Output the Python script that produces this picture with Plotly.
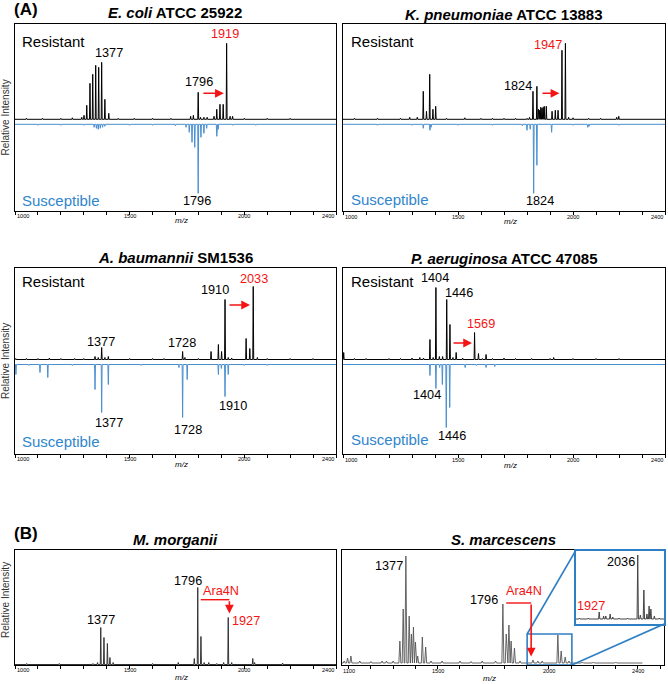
import plotly.graph_objects as go

W, H = 668, 684
FONT = "Liberation Sans, Arial, sans-serif"
RED = "#f41414"
BLUE_LINE = "#4a8fd0"
BLUE_TXT = "#2f86cc"
INSET_BLUE = "#2f7fc4"

# ---------------- data (m/z, relative intensity a.u.) ----------------
ecoli_res_mz = [1050, 1120, 1200, 1250, 1291, 1301, 1313, 1327, 1339, 1352, 1365, 1378, 1392, 1409, 1450, 1520,
                1600, 1680, 1766, 1778, 1799, 1809, 1824, 1838, 1868, 1880, 1894, 1908, 1923, 1938, 1949, 2000, 2100, 2200]
ecoli_res_int = [1, 1, 1, 1.5, 2, 4, 14, 36, 45, 54, 52, 57, 20, 6, 1, 1,
                 1, 1, 3, 4, 27, 2, 2, 2, 3, 10, 15, 15, 76, 3, 3, 1, 1, 1]
ecoli_sus_mz = [1100, 1200, 1300, 1345, 1355, 1363, 1372, 1382, 1392, 1500, 1600, 1700, 1746, 1760, 1772, 1784,
                1799, 1811, 1824, 1836, 1880, 1886, 1950, 2050]
ecoli_sus_int = [1, 1, 1, 3, 4, 5, 4, 3, 2, 1, 1, 1.5, 3, 8, 18, 23,
                 69, 13, 9, 4, 12, 5, 1, 1]

kpn_res_mz = [1050, 1150, 1250, 1290, 1323, 1349, 1363, 1377, 1391, 1403, 1450, 1530, 1600, 1650, 1700, 1750,
              1800, 1811, 1826, 1843, 1850, 1855, 1860, 1865, 1870, 1875, 1884, 1909, 1923, 1935, 1952, 1967,
              1981, 2000, 2068, 2120, 2190, 2199]
kpn_res_int = [1, 1, 1, 2, 2, 28, 8, 45, 10, 13, 1, 1.5, 1, 1, 1, 1,
               1, 2, 28, 33, 10, 9, 12, 11, 12, 13, 13, 8, 9, 9, 69, 76,
               2, 1.5, 1, 1, 2, 3]
kpn_sus_mz = [1150, 1300, 1349, 1378, 1383, 1500, 1650, 1780, 1800, 1814, 1829, 1843, 1907, 2000, 2064, 2070, 2200]
kpn_sus_int = [1, 1, 4, 6, 3, 1, 1, 1.5, 6, 5, 69, 41, 8, 1, 3, 2, 1]

aba_res_mz = [1003, 1050, 1100, 1150, 1200, 1260, 1300, 1349, 1363, 1378, 1392, 1407, 1500, 1600, 1650, 1731,
              1741, 1800, 1855, 1887, 1901, 1916, 1930, 1945, 2008, 2024, 2039, 2057, 2100, 2200, 2300]
aba_res_int = [1, 1, 1, 1.5, 1, 1, 1, 3, 2, 12, 2, 3, 1, 1, 1, 8,
               2, 1, 8, 15, 8, 60, 2, 1.5, 21, 11, 73, 2, 1, 1, 1]
aba_sus_mz = [1004, 1060, 1109, 1143, 1250, 1349, 1378, 1407, 1550, 1715, 1731, 1751, 1887, 1900, 1916, 1930, 2000, 2100]
aba_sus_int = [10, 1, 8, 13, 1, 25, 48, 20, 1, 3, 53, 15, 10, 4, 32, 10, 1, 1]

pae_res_mz = [1003, 1050, 1100, 1200, 1250, 1300, 1334, 1350, 1378, 1392, 1404, 1419, 1433, 1451, 1465, 1478,
              1492, 1520, 1572, 1589, 1606, 1622, 1650, 1700, 1750, 1820, 1900, 1916, 2000, 2100, 2200]
pae_res_int = [7, 1, 1, 1, 1, 1.5, 2, 1.5, 20, 2, 72, 3, 3, 60, 35, 2,
               7, 1.5, 27, 6, 1, 5, 1, 1.5, 1, 1, 1, 2, 1, 1, 1]
pae_sus_mz = [1378, 1404, 1420, 1432, 1449, 1464, 1531, 1580, 1622, 1660]
pae_sus_int = [11, 24, 3, 20, 63, 43, 3, 1, 3, 2]

mmo_mz = [1051, 1193, 1340, 1360, 1374, 1388, 1403, 1414, 1428, 1600, 1712, 1782, 1797, 1811, 1825, 1845,
          1880, 1910, 1930, 1945, 2037, 2045, 2167]
mmo_int = [1, 1, 1, 2, 37, 27, 21, 7, 2, 1, 2, 6, 77, 28, 2, 2,
           1, 2, 47, 2, 6, 2, 1.5]

sma_mz = [1080, 1095, 1110, 1150, 1200, 1250, 1270, 1300, 1330, 1345, 1357, 1372, 1382, 1391, 1400, 1410,
          1431, 1446, 1470, 1520, 1600, 1650, 1700, 1760, 1793, 1808, 1820, 1830, 1845, 1870, 1928, 1950,
          1970, 2040, 2055, 2073, 2090, 2150, 2200, 2300]
sma_int = [2, 5, 7, 2, 1.5, 2, 2, 2, 22, 54, 107, 47, 29, 36, 21, 7,
           26, 16, 2, 2, 2, 1.5, 2, 2, 59, 29, 38, 22, 15, 2, 3, 2,
           2, 28, 12, 6, 2, 1, 1, 1]
sma_zoom_range = [1902, 2103]
sma_zoom_height = 29
inset_mz = [1910, 1930, 1955, 1965, 1970, 1980, 1986, 2000, 2020, 2043, 2049, 2057, 2064, 2069, 2073, 2081, 2092]
inset_int = [1, 1, 7, 3, 3, 5, 2, 1, 1, 64, 4, 29, 5, 13, 10, 3, 1]

ticks_std = [1000, 1500, 2000, 2400]
ticks_sma = [1100, 1500, 2000, 2400]

# ---------------- geometry (pixels) ----------------
COL_L = (15, 336)
COL_R = (343, 665)
ROW1 = (24, 211)
ROW2 = (268, 454)
ROW3 = (550, 665)
SMA_X = (342, 664)
INSET_X = (576, 664)
INSET_Y = (550.7, 624)

XR_STD = [1000, 2400]
XR_SMA = [1070, 2517]
YR1 = [-91.7, 95.3]
YR2 = [-94.5, 91.5]
YR5 = [-0.5, 114.5]
YR6 = [-2.0, 113.0]
YR7 = [-5.0, 68.3]
SUS_OFF = -5.0


def xd(px):
    return [px[0] / W, px[1] / W]


def yd(py):
    return [1 - py[1] / H, 1 - py[0] / H]


def stick(mz, inten, w, x0, x1, base=0.0, sign=1.0):
    xs, ys = [x0], [base]
    for m, h in sorted(zip(mz, inten)):
        xs += [m - w, m, m + w]
        ys += [base, base + sign * h, base]
    xs.append(x1)
    ys.append(base)
    return xs, ys


fig = go.Figure()


def add_spec(mz, inten, axn, xr, color, w=2.0, base=0.0, sign=1.0, lw=1.0):
    xs, ys = stick(mz, inten, w, xr[0], xr[1], base, sign)
    fig.add_trace(go.Scatter(x=xs, y=ys, mode="lines", line=dict(color=color, width=lw),
                             xaxis="x" if axn == 1 else f"x{axn}",
                             yaxis="y" if axn == 1 else f"y{axn}",
                             hoverinfo="skip", showlegend=False))


# panel A
add_spec(ecoli_res_mz, ecoli_res_int, 1, XR_STD, "black")
add_spec(ecoli_sus_mz, ecoli_sus_int, 1, XR_STD, BLUE_LINE, base=SUS_OFF, sign=-1)
add_spec(kpn_res_mz, kpn_res_int, 2, XR_STD, "black")
add_spec(kpn_sus_mz, kpn_sus_int, 2, XR_STD, BLUE_LINE, base=SUS_OFF, sign=-1)
add_spec(aba_res_mz, aba_res_int, 3, XR_STD, "black")
add_spec(aba_sus_mz, aba_sus_int, 3, XR_STD, BLUE_LINE, base=SUS_OFF, sign=-1)
add_spec(pae_res_mz, pae_res_int, 4, XR_STD, "black")
add_spec(pae_sus_mz, pae_sus_int, 4, XR_STD, BLUE_LINE, base=SUS_OFF, sign=-1)
# panel B
add_spec(mmo_mz, mmo_int, 5, XR_STD, "#333333")
add_spec(sma_mz, sma_int, 6, [XR_SMA[0], 2420], "#555555", w=4.5, lw=0.9)
add_spec(inset_mz, inset_int, 7, sma_zoom_range, "#444444", w=1.5, lw=1.0)

# red elbow connectors (Ara4N)
fig.add_trace(go.Scatter(x=[1810, 1935], y=[64.8, 64.8], mode="lines", line=dict(color=RED, width=1.4),
                         xaxis="x5", yaxis="y5", hoverinfo="skip", showlegend=False))
fig.add_trace(go.Scatter(x=[1808, 1920], y=[60, 60], mode="lines", line=dict(color=RED, width=1.4),
                         xaxis="x6", yaxis="y6", hoverinfo="skip", showlegend=False))

frame = dict(showline=True, mirror=True, linecolor="black", linewidth=1.3,
             showgrid=False, zeroline=False, fixedrange=True)
xcommon = dict(frame, ticks="outside", ticklen=3, tickwidth=0.8, tickcolor="black",
               dtick=100, showticklabels=False)
ycommon = dict(frame, ticks="", showticklabels=False)

layout = dict(
    width=W, height=H, margin=dict(l=0, r=0, t=0, b=0),
    paper_bgcolor="white", plot_bgcolor="white", showlegend=False,
    font=dict(family=FONT, color="black"),
)
panels = [
    (1, COL_L, ROW1, XR_STD, YR1, 1000),
    (2, COL_R, ROW1, XR_STD, YR1, 1000),
    (3, COL_L, ROW2, XR_STD, YR2, 1000),
    (4, COL_R, ROW2, XR_STD, YR2, 1000),
    (5, COL_L, ROW3, XR_STD, YR5, 1000),
    (6, SMA_X, ROW3, XR_SMA, YR6, 1100),
]
for n, cx, ry, xr, yr, t0 in panels:
    xk = "xaxis" if n == 1 else f"xaxis{n}"
    yk = "yaxis" if n == 1 else f"yaxis{n}"
    layout[xk] = dict(xcommon, domain=xd(cx), range=xr, tick0=t0, anchor="y" if n == 1 else f"y{n}")
    layout[yk] = dict(ycommon, domain=yd(ry), range=yr, anchor="x" if n == 1 else f"x{n}")
layout["xaxis7"] = dict(frame, domain=xd(INSET_X), range=sma_zoom_range, anchor="y7",
                        linecolor=INSET_BLUE, linewidth=1.6, ticks="", showticklabels=False)
layout["yaxis7"] = dict(frame, domain=yd(INSET_Y), range=YR7, anchor="x7",
                        linecolor=INSET_BLUE, linewidth=1.6, ticks="", showticklabels=False)
fig.update_layout(**layout)

ann = []


def text(xpx, ypx, s, size=12.7, color="black", xanchor="center"):
    ann.append(dict(x=xpx / W, y=1 - ypx / H, xref="paper", yref="paper", text=s, showarrow=False,
                    xanchor=xanchor, yanchor="middle", font=dict(size=size, color=color, family=FONT)))


def arrow(axn, x_tail, x_head, y_tail, y_head):
    a = "x" if axn == 1 else f"x{axn}"
    b = "y" if axn == 1 else f"y{axn}"
    ann.append(dict(x=x_head, y=y_head, ax=x_tail, ay=y_tail, xref=a, yref=b, axref=a, ayref=b,
                    text="", showarrow=True, arrowhead=2, arrowsize=1.1, arrowwidth=1.6, arrowcolor=RED))


# titles
text(175.5, 13, "<b><i>E. coli</i> ATCC 25922</b>", 15)
text(504, 15, "<b><i>K. pneumoniae</i> ATCC 13883</b>", 15)
text(175.5, 257, "<b><i>A. baumannii</i> SM1536</b>", 15)
text(504, 258, "<b><i>P. aeruginosa</i> ATCC 47085</b>", 15)
text(175.5, 539, "<b><i>M. morganii</i></b>", 15)
text(503, 539, "<b><i>S. marcescens</i></b>", 15)
text(12, 10, "<b>(A)</b>", 17, xanchor="left")
text(12, 533, "<b>(B)</b>", 17, xanchor="left")

# y titles
for yc in (117.5, 361, 600):
    ann.append(dict(x=5 / W, y=1 - yc / H, xref="paper", yref="paper", text="Relative Intensity",
                    showarrow=False, textangle=-90, xanchor="center", yanchor="middle",
                    font=dict(size=10, color="#333333", family=FONT)))

# E. coli
text(20, 42, "Resistant", 15, xanchor="left")
text(108.5, 53, "1377")
text(199, 82, "1796")
text(225, 34, "1919", color=RED)
text(20, 200, "Susceptible", 15, BLUE_TXT, xanchor="left")
text(197, 201, "1796")
arrow(1, 1815, 1911, 26, 26)
# K. pneumoniae
text(349, 41, "Resistant", 15, xanchor="left")
text(548, 45, "1947", color=RED)
text(518, 86, "1824")
text(349, 199, "Susceptible", 15, BLUE_TXT, xanchor="left")
text(539.5, 201, "1824")
arrow(2, 1861, 1941, 26, 26)
# A. baumannii
text(20, 282, "Resistant", 15, xanchor="left")
text(215, 290, "1910")
text(254, 279, "2033", color=RED)
text(101, 342, "1377")
text(181.5, 343, "1728")
text(232.5, 406, "1910")
text(109, 423, "1377")
text(187.5, 430, "1728")
text(20, 441, "Susceptible", 15, BLUE_TXT, xanchor="left")
arrow(3, 1929, 2025, 54.5, 54.5)
# P. aeruginosa
text(349, 282, "Resistant", 15, xanchor="left")
text(435, 278, "1404")
text(458.5, 293, "1446")
text(481, 324, "1569", color=RED)
text(427, 395, "1404")
text(451.5, 436, "1446")
text(349, 439, "Susceptible", 15, BLUE_TXT, xanchor="left")
arrow(4, 1474, 1561, 16.5, 16.5)
# M. morganii
text(101, 620, "1377")
text(187.5, 581, "1796")
text(221, 591, "Ara4N", color=RED)
text(230, 621, "1927", color=RED, xanchor="left")
arrow(5, 1935, 1935, 64.8, 51.0)
# S. marcescens
text(388.5, 566, "1377")
text(484, 600, "1796")
text(523.5, 591, "Ara4N", color=RED)
text(621, 562, "2036")
text(591, 606, "1927", color=RED)
arrow(6, 1920, 1920, 60, 6.5)

# tick labels and m/z
def tick_labels(axn, vals, xr, ypx):
    a = "x" if axn == 1 else f"x{axn}"
    for v in vals:
        xa = "left" if v == xr[0] else ("right" if v == xr[1] else "center")
        ann.append(dict(x=v, y=1 - ypx / H, xref=a, yref="paper", text=str(v), showarrow=False,
                        xanchor=xa, yanchor="middle", font=dict(size=5.6, color="black", family=FONT)))


tick_labels(1, ticks_std, XR_STD, 216)
tick_labels(2, ticks_std, XR_STD, 217)
tick_labels(3, ticks_std, XR_STD, 459)
tick_labels(4, ticks_std, XR_STD, 460)
tick_labels(5, ticks_std, XR_STD, 670)
tick_labels(6, ticks_sma, XR_SMA, 671)
for xc, yc in ((181, 220), (511, 221), (181, 464), (511, 465), (181, 677), (489, 678)):
    text(xc, yc, "<i>m/z</i>", 8)

fig.update_layout(annotations=ann)

# zoom rectangle and connector lines (S. marcescens)
def px_to_x6(px):
    return XR_SMA[0] + (px - SMA_X[0]) / (SMA_X[1] - SMA_X[0]) * (XR_SMA[1] - XR_SMA[0])


def py_to_y6(py):
    return YR6[1] - (py - ROW3[0]) / (ROW3[1] - ROW3[0]) * (YR6[1] - YR6[0])


shape_style = dict(xref="x6", yref="y6", line=dict(color=INSET_BLUE, width=1.6))
fig.add_shape(type="rect", x0=sma_zoom_range[0], x1=sma_zoom_range[1], y0=YR6[0], y1=sma_zoom_height, **shape_style)
fig.add_shape(type="line", x0=sma_zoom_range[0], y0=sma_zoom_height, x1=px_to_x6(INSET_X[0]), y1=YR6[1], **shape_style)
fig.add_shape(type="line", x0=sma_zoom_range[1], y0=YR6[0], x1=XR_SMA[1], y1=py_to_y6(INSET_Y[1]), **shape_style)

fig.write_html("out.html", config={"displayModeBar": False},
               post_script="document.body.style.margin='0';document.body.style.overflow='hidden';")
